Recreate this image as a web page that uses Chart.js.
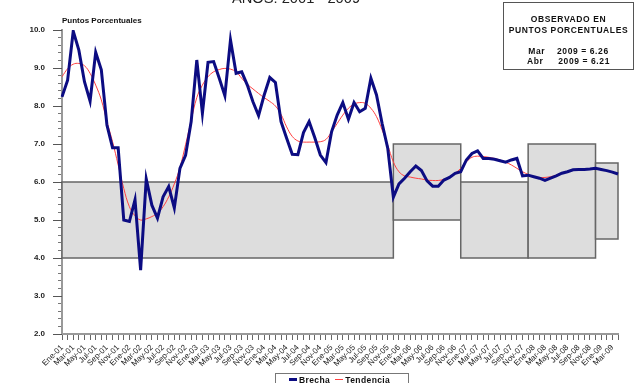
<!DOCTYPE html>
<html lang="es">
<head>
  <meta charset="UTF-8">
  <title>Brecha - Años 2001 - 2009</title>
  <script src="https://cdn.jsdelivr.net/npm/chart.js"></script>
  <style>
    body {
      margin: 0;
      background: #fff;
      font-family: "Liberation Sans", Arial, sans-serif;
    }
    .wrap {
      position: relative;
      width: 635px;
      height: 383px;
      overflow: hidden;
    }
    .wrap canvas { position: absolute; left: 0; top: 0; }
    .titulo {
      position: absolute;
      left: 0;
      top: -10px;
      width: 592px;
      text-align: center;
      font-size: 14.7px;
      line-height: 16px;
      color: #222;
    }
    .unidad {
      position: absolute;
      left: 62px;
      top: 16px;
      font-size: 8px;
      font-weight: bold;
      color: #111;
    }
    .observado {
      position: absolute;
      left: 503px;
      top: 2px;
      width: 131px;
      height: 68px;
      border: 1px solid #555;
      box-sizing: border-box;
      padding-top: 11px;
      text-align: center;
      font-size: 8.5px;
      font-weight: bold;
      letter-spacing: 0.6px;
      line-height: 10.5px;
      color: #111;
      white-space: pre;
    }
    .leyenda {
      position: absolute;
      left: 275px;
      top: 373px;
      width: 134px;
      height: 16px;
      border: 1px solid #777;
      box-sizing: border-box;
      display: flex;
      align-items: flex-start;
      padding-left: 13px;
      font-size: 8.5px;
      font-weight: bold;
      letter-spacing: 0.4px;
      color: #111;
    }
    .item { display: flex; align-items: center; margin-right: 5px; height: 11px; }
    .muestra { width: 8px; margin-right: 2px; }
  </style>
</head>
<body>
  <div class="wrap">
    <canvas id="grafico" width="635" height="383"></canvas>
    <div class="titulo">AÑOS: 2001 - 2009</div>
    <div class="unidad">Puntos Porcentuales</div>
    <div class="observado">OBSERVADO EN
PUNTOS PORCENTUALES

Mar    2009 = 6.26
Abr     2009 = 6.21</div>
    <div class="leyenda" id="leyenda"></div>
  </div>

  <script>
    const meses = ['Ene', 'Feb', 'Mar', 'Abr', 'May', 'Jun', 'Jul', 'Ago', 'Sep', 'Oct', 'Nov', 'Dic'];
    const anios = ['01', '02', '03', '04', '05', '06', '07', '08', '09'];
    const ultimoMes = 4; // la serie llega hasta Abr-09

    const brecha = [
      8.24, 8.68, 9.97, 9.47, 8.64, 8.13, 9.41, 8.95, 7.50, 6.90, 6.90, 5.00,
      4.96, 5.53, 3.68, 6.08, 5.39, 5.05, 5.61, 5.88, 5.32, 6.36, 6.70, 7.59,
      9.21, 7.81, 9.15, 9.17, 8.73, 8.27, 9.74, 8.86, 8.90, 8.55, 8.11, 7.75,
      8.29, 8.75, 8.62, 7.59, 7.15, 6.73, 6.72, 7.30, 7.59, 7.17, 6.71, 6.51,
      7.32, 7.76, 8.09, 7.65, 8.09, 7.85, 7.94, 8.73, 8.29, 7.54, 6.89, 5.60,
      5.95, 6.10, 6.27, 6.42, 6.30, 6.03, 5.89, 5.89, 6.05, 6.12, 6.23, 6.27,
      6.58, 6.75, 6.82, 6.62, 6.62, 6.60, 6.56, 6.52, 6.58, 6.62, 6.16, 6.18,
      6.14, 6.10, 6.04, 6.10, 6.16, 6.23, 6.27, 6.32, 6.33, 6.33, 6.34, 6.36,
      6.33, 6.30, 6.26, 6.21
    ];
    const tendencia = [
      8.77, 8.98, 9.10, 9.12, 9.06, 8.86, 8.55, 8.16, 7.59, 7.06, 6.45, 5.83,
      5.35, 5.11, 5.00, 5.03, 5.09, 5.18, 5.35, 5.61, 5.95, 6.38, 6.98, 7.62,
      8.22, 8.55, 8.77, 8.90, 8.96, 8.99, 8.97, 8.90, 8.73, 8.57, 8.45, 8.33,
      8.22, 8.12, 8.00, 7.78, 7.45, 7.20, 7.08, 7.05, 7.05, 7.05, 7.06, 7.12,
      7.32, 7.54, 7.76, 7.94, 8.05, 8.09, 8.07, 7.94, 7.72, 7.37, 6.97, 6.53,
      6.27, 6.16, 6.13, 6.10, 6.08, 6.05, 6.04, 6.04, 6.07, 6.13, 6.23, 6.36,
      6.53, 6.65, 6.68, 6.67, 6.65, 6.62, 6.58, 6.52, 6.45, 6.36, 6.27, 6.20,
      6.14, 6.12, 6.12, 6.14, 6.18, 6.24, 6.28, 6.31, 6.33, 6.34, 6.35, 6.35,
      6.33, 6.30, 6.26, 6.22
    ];

    // rangos sombreados (indice de mes inicial / final, limites en puntos)
    const rangoDesde = [0, 59, 71, 83, 95];
    const rangoHasta = [59, 71, 83, 95, 99];
    const rangoMin = [4.0, 5.0, 4.0, 4.0, 4.5];
    const rangoMax = [6.0, 7.0, 6.0, 7.0, 6.5];

    const etiquetas = [];
    anios.forEach((a, k) => {
      const n = k === anios.length - 1 ? ultimoMes : 12;
      for (let m = 0; m < n; m++) etiquetas.push(meses[m] + '-' + a);
    });

    const fuente = '"Liberation Sans", Arial, sans-serif';

    const rangos = {
      id: 'rangos',
      beforeDatasetsDraw(chart) {
        const { ctx, scales: { x, y } } = chart;
        ctx.save();
        rangoDesde.forEach((d, k) => {
          const x0 = x.getPixelForValue(d);
          const x1 = x.getPixelForValue(rangoHasta[k]);
          const y0 = y.getPixelForValue(rangoMax[k]);
          const y1 = y.getPixelForValue(rangoMin[k]);
          ctx.fillStyle = '#dddddd';
          ctx.fillRect(x0, y0, x1 - x0, y1 - y0);
          ctx.strokeStyle = '#666';
          ctx.lineWidth = 1.5;
          ctx.strokeRect(x0, y0, x1 - x0, y1 - y0);
        });
        ctx.restore();
      },
      afterDraw(chart) {
        // marcas largas en los valores enteros del eje Y
        const { ctx, scales: { y } } = chart;
        ctx.save();
        ctx.strokeStyle = '#555';
        ctx.lineWidth = 1;
        y.ticks.forEach(t => {
          if (Math.abs(t.value - Math.round(t.value)) > 1e-6) return;
          const py = Math.round(y.getPixelForValue(t.value)) + 0.5;
          ctx.beginPath();
          ctx.moveTo(y.right - 9, py);
          ctx.lineTo(y.right, py);
          ctx.stroke();
        });
        ctx.restore();
      }
    };

    new Chart(document.getElementById('grafico'), {
      type: 'line',
      data: {
        labels: etiquetas,
        datasets: [
          {
            label: 'Brecha',
            data: brecha,
            borderColor: '#0c0c82',
            borderWidth: 3,
            pointRadius: 0,
            tension: 0
          },
          {
            label: 'Tendencia',
            data: tendencia,
            borderColor: '#ff4040',
            borderWidth: 1,
            pointRadius: 0,
            tension: 0.4
          }
        ]
      },
      options: {
        responsive: false,
        animation: false,
        layout: { padding: { top: 30, right: 17, bottom: 0, left: 0 } },
        plugins: {
          legend: { display: false },
          tooltip: { enabled: false }
        },
        scales: {
          x: {
            offset: false,
            afterFit(s) { s.height = 49; },
            border: { color: '#999', width: 2 },
            grid: { drawOnChartArea: false, offset: false, tickLength: 6, tickColor: '#666' },
            ticks: {
              autoSkip: false,
              minRotation: 45,
              maxRotation: 45,
              padding: 3,
              color: '#222',
              font: { family: fuente, size: 8 },
              callback: (v, i) => (i % 2 === 0 ? etiquetas[i] : '')
            }
          },
          y: {
            min: 2,
            max: 10,
            afterFit(s) { s.width = 62; },
            border: { color: '#999', width: 2 },
            grid: { drawOnChartArea: false, tickLength: 4, tickColor: '#777' },
            ticks: {
              stepSize: 0.2,
              autoSkip: false,
              padding: 13,
              color: '#222',
              font: { family: fuente, size: 8, weight: 'bold' },
              callback: v => (Math.abs(v - Math.round(v)) < 1e-6 ? v.toFixed(1) : '')
            }
          }
        }
      },
      plugins: [rangos]
    });

    // leyenda propia abajo
    const leyenda = document.getElementById('leyenda');
    [['Brecha', '#0c0c82', 3], ['Tendencia', '#ff4040', 1.5]].forEach(([txt, color, grosor]) => {
      const item = document.createElement('div');
      item.classList.add('item');
      const muestra = document.createElement('div');
      muestra.classList.add('muestra');
      muestra.style.borderTop = grosor + 'px solid ' + color;
      const texto = document.createElement('span');
      texto.textContent = txt;
      item.appendChild(muestra);
      item.appendChild(texto);
      leyenda.appendChild(item);
    });
  </script>
</body>
</html>
